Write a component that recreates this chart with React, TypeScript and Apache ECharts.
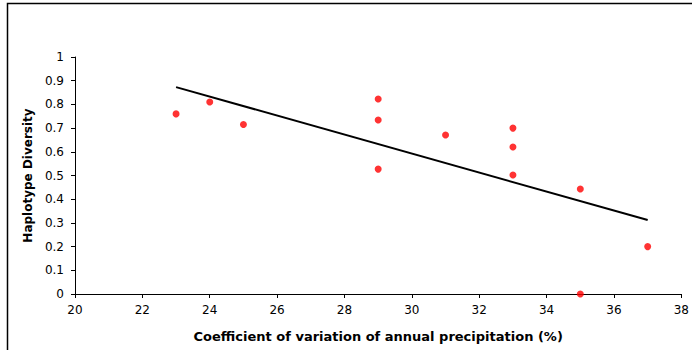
import React, { useEffect, useRef } from "react";
import * as echarts from "echarts";

const cvPrecip = [23, 24, 25, 29, 29, 29, 31, 33, 33, 33, 35, 35, 37];
const haploDiv = [0.76, 0.81, 0.715, 0.823, 0.734, 0.527, 0.671, 0.70, 0.62, 0.502, 0.443, 0.0, 0.2];
const trendX = [23, 37];
const trendY = [0.873, 0.312];

export default function App() {
  const ref = useRef<HTMLDivElement>(null);
  useEffect(() => {
    if (!ref.current) return;
    const chart = echarts.init(ref.current, undefined, { renderer: "svg" });
    const font = "'DejaVu Sans', sans-serif";
    chart.setOption({
      animation: false,
      backgroundColor: "#ffffff",
      textStyle: { fontFamily: font },
      graphic: [
        {
          type: "rect",
          shape: { x: 7.5, y: 3.5, width: 720, height: 400 },
          style: { fill: "none", stroke: "#000", lineWidth: 1.5 },
          silent: true,
        },
      ],
      grid: { left: 75, right: 9, top: 57, bottom: 56 },
      xAxis: {
        type: "value",
        min: 20,
        max: 38,
        interval: 2,
        name: "Coefficient of variation of annual precipitation (%)",
        nameLocation: "middle",
        nameGap: 36,
        nameTextStyle: { fontFamily: font, fontSize: 13, fontWeight: "bold", color: "#000" },
        axisLine: { show: true, lineStyle: { color: "#000", width: 1 } },
        axisTick: { show: true, inside: false, length: 4, lineStyle: { color: "#000" } },
        axisLabel: { fontFamily: font, fontSize: 12, color: "#000", margin: 10 },
        splitLine: { show: false },
      },
      yAxis: {
        type: "value",
        min: 0,
        max: 1,
        interval: 0.1,
        name: "Haplotype Diversity",
        nameLocation: "middle",
        nameGap: 39,
        nameTextStyle: { fontFamily: font, fontSize: 12, fontWeight: "bold", color: "#000" },
        axisLine: { show: true, lineStyle: { color: "#000", width: 1 } },
        axisTick: { show: true, inside: false, length: 4, lineStyle: { color: "#000" } },
        axisLabel: { fontFamily: font, fontSize: 12, color: "#000", margin: 11 },
        splitLine: { show: false },
      },
      series: [
        {
          type: "line",
          data: trendX.map((x, i) => [x, trendY[i]]),
          showSymbol: false,
          symbol: "none",
          lineStyle: { color: "#000", width: 2 },
          silent: true,
          z: 2,
        },
        {
          type: "scatter",
          data: cvPrecip.map((x, i) => [x, haploDiv[i]]),
          symbol: "circle",
          symbolSize: 7,
          itemStyle: { color: "#ff0000" },
          z: 3,
        },
      ],
    });
    return () => chart.dispose();
  }, []);
  return (
    <div
      ref={ref}
      style={{ position: "fixed", left: 0, top: 0, width: 692, height: 350 }}
    />
  );
}
